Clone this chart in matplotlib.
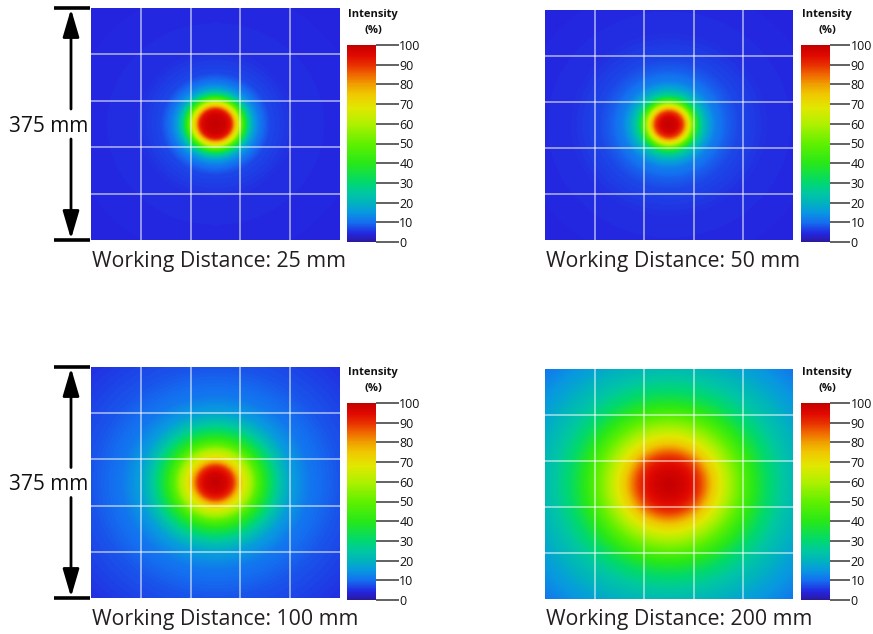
import numpy as np
import matplotlib
matplotlib.use("Agg")
import matplotlib.pyplot as plt
from matplotlib.colors import LinearSegmentedColormap

plt.rcParams['font.family'] = ['Open Sans', 'DejaVu Sans']

# ---- data: radial intensity profiles (radius in mm, intensity in %)
titles = ["Working Distance: 25 mm", "Working Distance: 50 mm",
          "Working Distance: 100 mm", "Working Distance: 200 mm"]

r_25 = [0, 15, 22.5, 26, 30, 34.5, 39, 43.5, 48, 52.5, 58.5, 67.5, 82.5, 120, 260]
i_25 = [100, 98, 93, 86, 76, 66, 52, 41, 31, 23, 16, 11, 7, 5, 4]

r_50 = [0, 12, 19.5, 22.5, 27, 31.5, 36, 40.5, 45, 51, 60, 70.5, 87, 105, 150, 260]
i_50 = [100, 97, 90, 85, 75, 65, 52, 42, 32, 24, 17, 12, 9, 7, 5, 4]

r_100 = [0, 15, 24, 28.5, 33, 39, 45, 54, 63, 75, 87, 99, 115.5, 142.5, 187.5, 265]
i_100 = [100, 97, 92, 87, 80, 72, 66, 58, 48, 38, 30, 23, 16, 11, 8, 5]

r_200 = [0, 22.5, 37.5, 48, 57, 66, 78, 90, 105, 120, 135, 150, 172.5, 187.5, 217.5, 265]
i_200 = [100, 97, 93, 88, 82, 75, 68, 60, 52, 44, 37, 31, 25, 22, 17, 11]

profiles = [(r_25, i_25), (r_50, i_50), (r_100, i_100), (r_200, i_200)]
cbar_ticks = list(range(0, 101, 10))
side_label = "375 mm"
half_size = 187.5  # mm

# ---- colormap resembling the reference colour bar
cmap = LinearSegmentedColormap.from_list("intensity", [
    (0.00, "#2b1a9e"), (0.04, "#2424e0"), (0.10, "#1470f0"), (0.15, "#0898e0"),
    (0.20, "#00b4bc"), (0.25, "#00c8a0"), (0.30, "#00d870"), (0.40, "#28e818"),
    (0.50, "#60f000"), (0.60, "#b0f000"), (0.68, "#e0e800"), (0.75, "#f0c800"),
    (0.80, "#f0a000"), (0.85, "#f06800"), (0.90, "#e83000"), (0.95, "#e00800"),
    (1.00, "#c40000")])

W, H = 873, 634
fig = plt.figure(figsize=(W / 100, H / 100), dpi=100)

def fr(x0, y0, x1, y1):
    return [x0 / W, 1 - y1 / H, (x1 - x0) / W, (y1 - y0) / H]

img_boxes = [(91, 8, 340, 240), (545, 10, 793, 240), (91, 367, 340, 598), (545, 369, 793, 599)]
cb_boxes = [(347, 45, 376, 242), (801, 45, 830, 242), (347, 403, 376, 600), (801, 403, 830, 600)]
tick_len = [16.5, 14.5, 16.5, 14.5]

n = 300
xs = np.linspace(-half_size, half_size, n)
X, Y = np.meshgrid(xs, xs)
R = np.hypot(X, Y)

for k in range(4):
    ax = fig.add_axes(fr(*img_boxes[k]))
    rr, ii = profiles[k]
    Z = np.interp(R, rr, ii)
    im = ax.imshow(Z, cmap=cmap, vmin=0, vmax=100, origin="lower",
                   extent=[-half_size, half_size, -half_size, half_size],
                   aspect="auto", interpolation="bilinear")
    for g in np.linspace(-half_size, half_size, 6)[1:-1]:
        ax.axvline(g, color="white", lw=1.3, alpha=0.55)
        ax.axhline(g, color="white", lw=1.3, alpha=0.55)
    ax.set_xticks([]); ax.set_yticks([])
    for s in ax.spines.values():
        s.set_visible(False)
    x0, y0, x1, y1 = img_boxes[k]
    fig.text((x0 + 1) / W, 1 - (y1 + 21) / H, titles[k], fontsize=15.3,
             color="#231f20", ha="left", va="center")

    cax = fig.add_axes(fr(*cb_boxes[k]))
    cb = fig.colorbar(im, cax=cax, ticks=cbar_ticks)
    cb.outline.set_visible(False)
    cax.tick_params(length=tick_len[k], width=1.3, color="#555555", labelsize=9,
                    pad=0.3, labelcolor="#111111")
    cx0, cy0, cx1, cy1 = cb_boxes[k]
    fig.text((cx0 + 26) / W, 1 - (cy0 - 31) / H, "Intensity", fontsize=8,
             fontweight="bold", ha="center", va="center", color="#111111")
    fig.text((cx0 + 26) / W, 1 - (cy0 - 15) / H, "(%)", fontsize=8,
             fontweight="bold", ha="center", va="center", color="#111111")

# ---- dimension markers on the left panels
ov = fig.add_axes([0, 0, 1, 1])
ov.set_xlim(0, W); ov.set_ylim(H, 0); ov.axis("off")
for (x0, y0, x1, y1) in [img_boxes[0], img_boxes[2]]:
    ov.plot([54, 90], [y0, y0], color="black", lw=2.6, solid_capstyle="butt")
    ov.plot([54, 90], [y1, y1], color="black", lw=2.6, solid_capstyle="butt")
    yc = (y0 + y1) / 2
    ov.annotate("", xy=(71, y0 + 1), xytext=(71, yc - 15),
                arrowprops=dict(arrowstyle="-|>,head_length=1.7,head_width=0.5",
                                color="black", lw=2, shrinkA=0, shrinkB=0))
    ov.annotate("", xy=(71, y1 - 1), xytext=(71, yc + 15),
                arrowprops=dict(arrowstyle="-|>,head_length=1.7,head_width=0.5",
                                color="black", lw=2, shrinkA=0, shrinkB=0))
    ov.text(49, yc + 2, side_label, fontsize=15, ha="center", va="center", color="#111111")

fig.savefig("out.png", dpi=100)
